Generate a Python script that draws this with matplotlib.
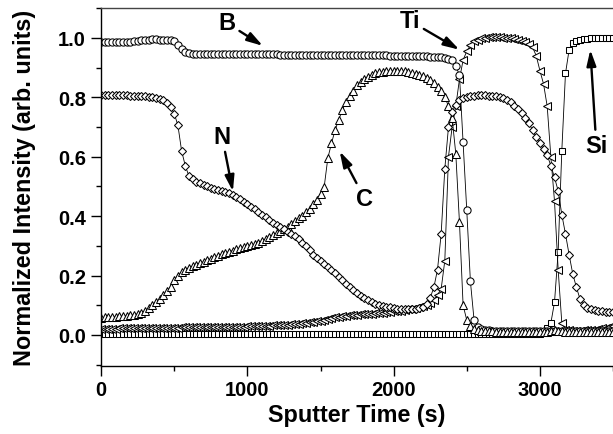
import numpy as np
import matplotlib.pyplot as plt
from matplotlib.ticker import MultipleLocator

plt.rcParams['font.family'] = ['Liberation Sans', 'DejaVu Sans']
plt.rcParams['font.weight'] = 'bold'

# sputter time, one reading every 25 s
time = np.arange(0, 3501, 25)

boron = [
    0.986, 0.986, 0.986, 0.987, 0.986, 0.986, 0.987, 0.986, 0.987, 0.988,
    0.990, 0.993, 0.994, 0.994, 0.995, 0.995, 0.994, 0.994, 0.993, 0.992,
    0.989, 0.977, 0.962, 0.953, 0.949, 0.947, 0.946, 0.946, 0.946, 0.946,
    0.946, 0.946, 0.945, 0.945, 0.945, 0.945, 0.945, 0.945, 0.945, 0.945,
    0.945, 0.945, 0.944, 0.944, 0.944, 0.944, 0.944, 0.944, 0.944, 0.943,
    0.943, 0.943, 0.943, 0.943, 0.943, 0.943, 0.943, 0.943, 0.943, 0.943,
    0.943, 0.943, 0.942, 0.942, 0.942, 0.942, 0.942, 0.942, 0.942, 0.942,
    0.942, 0.942, 0.941, 0.941, 0.941, 0.941, 0.941, 0.941, 0.941, 0.940,
    0.940, 0.940, 0.940, 0.940, 0.939, 0.939, 0.939, 0.939, 0.938, 0.938,
    0.937, 0.936, 0.935, 0.934, 0.932, 0.929, 0.924, 0.905, 0.875, 0.650,
    0.420, 0.180, 0.050, 0.028, 0.020, 0.017, 0.015, 0.014, 0.013, 0.013,
    0.013, 0.012, 0.012, 0.012, 0.012, 0.012, 0.012, 0.012, 0.012, 0.012,
    0.012, 0.012, 0.013, 0.013, 0.014, 0.014, 0.014, 0.013, 0.013, 0.013,
    0.013, 0.013, 0.013, 0.013, 0.013, 0.013, 0.013, 0.013, 0.013, 0.013,
    0.013]

nitrogen = [
    0.808, 0.808, 0.807, 0.807, 0.807, 0.806, 0.806, 0.806, 0.805, 0.805,
    0.805, 0.804, 0.803, 0.802, 0.800, 0.798, 0.795, 0.790, 0.782, 0.768,
    0.745, 0.705, 0.620, 0.570, 0.535, 0.524, 0.516, 0.510, 0.505, 0.500,
    0.496, 0.492, 0.488, 0.484, 0.480, 0.477, 0.472, 0.465, 0.457, 0.449,
    0.440, 0.432, 0.423, 0.414, 0.405, 0.396, 0.387, 0.378, 0.370, 0.362,
    0.355, 0.348, 0.340, 0.332, 0.322, 0.311, 0.298, 0.285, 0.270, 0.259,
    0.249, 0.240, 0.230, 0.220, 0.208, 0.196, 0.184, 0.172, 0.160, 0.150,
    0.140, 0.131, 0.123, 0.116, 0.110, 0.105, 0.101, 0.098, 0.095, 0.093,
    0.091, 0.089, 0.088, 0.087, 0.087, 0.087, 0.088, 0.090, 0.094, 0.105,
    0.125, 0.160, 0.220, 0.340, 0.560, 0.700, 0.750, 0.775, 0.790, 0.798,
    0.800, 0.803, 0.805, 0.806, 0.806, 0.806, 0.805, 0.805, 0.804, 0.801,
    0.797, 0.791, 0.783, 0.772, 0.760, 0.746, 0.730, 0.712, 0.690, 0.665,
    0.645, 0.625, 0.605, 0.570, 0.530, 0.485, 0.405, 0.340, 0.270, 0.205,
    0.160, 0.120, 0.100, 0.092, 0.087, 0.083, 0.081, 0.079, 0.078, 0.077,
    0.077]

carbon = [
    0.058, 0.059, 0.060, 0.061, 0.062, 0.063, 0.064, 0.065, 0.066, 0.068,
    0.071, 0.075, 0.080, 0.090, 0.100, 0.110, 0.120, 0.133, 0.147, 0.162,
    0.185, 0.200, 0.212, 0.220, 0.226, 0.231, 0.236, 0.241, 0.246, 0.251,
    0.256, 0.261, 0.266, 0.271, 0.276, 0.280, 0.284, 0.288, 0.292, 0.296,
    0.299, 0.302, 0.306, 0.310, 0.316, 0.322, 0.328, 0.335, 0.342, 0.350,
    0.357, 0.365, 0.372, 0.382, 0.392, 0.402, 0.413, 0.425, 0.440, 0.455,
    0.475, 0.498, 0.595, 0.645, 0.690, 0.725, 0.758, 0.785, 0.803, 0.822,
    0.840, 0.850, 0.860, 0.868, 0.875, 0.880, 0.884, 0.886, 0.888, 0.889,
    0.889, 0.889, 0.888, 0.887, 0.885, 0.882, 0.879, 0.875, 0.870, 0.864,
    0.857, 0.848, 0.836, 0.820, 0.800, 0.770, 0.730, 0.610, 0.380, 0.100,
    0.050, 0.030, 0.020, 0.016, 0.014, 0.013, 0.012, 0.012, 0.011, 0.011,
    0.011, 0.011, 0.010, 0.010, 0.010, 0.010, 0.010, 0.010, 0.010, 0.010,
    0.010, 0.010, 0.011, 0.013, 0.015, 0.014, 0.012, 0.011, 0.010, 0.010,
    0.010, 0.010, 0.010, 0.010, 0.010, 0.010, 0.010, 0.010, 0.010, 0.010,
    0.010]

titanium = [
    0.020, 0.020, 0.021, 0.021, 0.021, 0.022, 0.022, 0.022, 0.023, 0.023,
    0.023, 0.023, 0.024, 0.024, 0.024, 0.024, 0.025, 0.025, 0.025, 0.025,
    0.025, 0.025, 0.026, 0.026, 0.026, 0.026, 0.026, 0.026, 0.027, 0.027,
    0.027, 0.027, 0.027, 0.027, 0.028, 0.028, 0.028, 0.028, 0.028, 0.028,
    0.029, 0.029, 0.029, 0.030, 0.030, 0.031, 0.031, 0.032, 0.032, 0.033,
    0.034, 0.035, 0.036, 0.037, 0.038, 0.039, 0.040, 0.042, 0.044, 0.046,
    0.048, 0.051, 0.054, 0.057, 0.060, 0.062, 0.064, 0.065, 0.066, 0.067,
    0.068, 0.069, 0.070, 0.071, 0.072, 0.073, 0.074, 0.075, 0.076, 0.077,
    0.079, 0.080, 0.082, 0.084, 0.086, 0.088, 0.090, 0.093, 0.097, 0.102,
    0.108, 0.118, 0.135, 0.155, 0.250, 0.600, 0.700, 0.770, 0.860, 0.925,
    0.955, 0.975, 0.988, 0.994, 0.998, 1.000, 1.002, 1.003, 1.003, 1.002,
    1.001, 1.000, 0.998, 0.996, 0.993, 0.990, 0.986, 0.980, 0.968, 0.940,
    0.890, 0.845, 0.770, 0.600, 0.450, 0.220, 0.040, 0.018, 0.015, 0.014,
    0.014, 0.014, 0.015, 0.016, 0.017, 0.018, 0.020, 0.022, 0.025, 0.028,
    0.030]

silicon = [
    0.002, 0.002, 0.002, 0.002, 0.002, 0.002, 0.002, 0.002, 0.002, 0.002,
    0.002, 0.002, 0.002, 0.002, 0.002, 0.002, 0.002, 0.002, 0.002, 0.002,
    0.002, 0.002, 0.002, 0.002, 0.002, 0.002, 0.002, 0.002, 0.002, 0.002,
    0.002, 0.002, 0.002, 0.002, 0.002, 0.002, 0.002, 0.002, 0.002, 0.002,
    0.002, 0.002, 0.002, 0.002, 0.002, 0.002, 0.002, 0.002, 0.002, 0.002,
    0.002, 0.002, 0.002, 0.002, 0.002, 0.002, 0.002, 0.002, 0.002, 0.002,
    0.002, 0.002, 0.002, 0.002, 0.002, 0.002, 0.002, 0.002, 0.002, 0.002,
    0.002, 0.002, 0.002, 0.002, 0.002, 0.002, 0.002, 0.002, 0.002, 0.002,
    0.002, 0.002, 0.002, 0.002, 0.002, 0.002, 0.002, 0.002, 0.002, 0.002,
    0.002, 0.002, 0.002, 0.002, 0.002, 0.002, 0.002, 0.002, 0.002, 0.002,
    0.002, 0.002, 0.002, 0.002, 0.002, 0.002, 0.002, 0.002, 0.002, 0.002,
    0.002, 0.002, 0.002, 0.002, 0.002, 0.002, 0.002, 0.002, 0.003, 0.003,
    0.004, 0.010, 0.022, 0.040, 0.110, 0.280, 0.620, 0.880, 0.960, 0.983,
    0.990, 0.994, 0.996, 0.997, 0.998, 0.998, 0.998, 0.998, 0.998, 0.998,
    0.998]

for series in (boron, nitrogen, carbon, titanium, silicon):
    assert len(series) == len(time)

fig = plt.figure(figsize=(6.13, 4.35), dpi=100)
ax = fig.add_axes([0.165, 0.156, 0.835, 0.823])


def draw(values, marker, size):
    ax.plot(time, values, color='black', lw=0.6, marker=marker, ms=size,
            mfc='white', mec='black', mew=0.75)


draw(silicon, 's', 4.5)
draw(titanium, '<', 5.2)
draw(boron, 'o', 5.2)
draw(carbon, '^', 5.2)
draw(nitrogen, 'D', 4.3)

ax.set_xlim(0, 3500)
ax.set_ylim(-0.105, 1.1)
ax.xaxis.set_major_locator(MultipleLocator(1000))
ax.xaxis.set_minor_locator(MultipleLocator(500))
ax.yaxis.set_major_locator(MultipleLocator(0.2))
ax.yaxis.set_minor_locator(MultipleLocator(0.1))
ax.yaxis.set_major_formatter(plt.FormatStrFormatter('%.1f'))
ax.tick_params(which='major', direction='out', length=7, width=1, labelsize=14.5)
ax.tick_params(which='minor', direction='out', length=3.5, width=1)
ax.tick_params(axis='y', pad=4)
ax.tick_params(axis='x', pad=3)
ax.spines['right'].set_visible(False)
for s in ('left', 'bottom', 'top'):
    ax.spines[s].set_linewidth(1.0)
ax.spines['top'].set_color('#444444')

ax.set_xlabel('Sputter Time (s)', fontsize=16.8, fontweight='bold', labelpad=3)
ax.set_ylabel('Normalized Intensity (arb. units)', fontsize=16.8,
              fontweight='bold', labelpad=16)

arrow = dict(arrowstyle='-|>,head_length=0.95,head_width=0.28', lw=1.7,
             color='black', mutation_scale=10, shrinkA=1, shrinkB=0)
ax.annotate('B', xy=(1106, 0.973), xytext=(860, 1.05), fontsize=17,
            fontweight='bold', ha='center', va='center', arrowprops=arrow)
ax.annotate('N', xy=(901, 0.483), xytext=(826, 0.669), fontsize=17,
            fontweight='bold', ha='center', va='center', arrowprops=arrow)
ax.annotate('C', xy=(1631, 0.618), xytext=(1802, 0.459), fontsize=17,
            fontweight='bold', ha='center', va='center', arrowprops=arrow)
ax.annotate('Ti', xy=(2450, 0.96), xytext=(2109, 1.058), fontsize=17,
            fontweight='bold', ha='center', va='center', arrowprops=arrow)
ax.annotate('Si', xy=(3345, 0.96), xytext=(3386, 0.638), fontsize=17,
            fontweight='bold', ha='center', va='center', arrowprops=arrow)

fig.savefig('out.png', dpi=100)
